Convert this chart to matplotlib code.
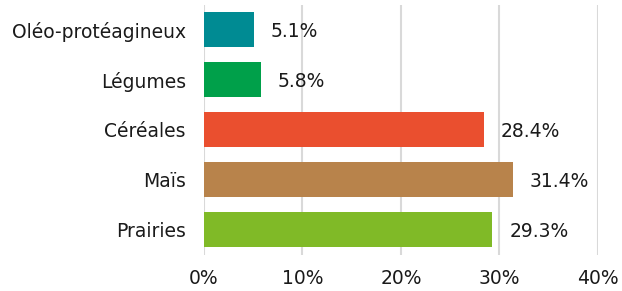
import matplotlib
matplotlib.use("Agg")
import matplotlib.pyplot as plt

categories = ["Prairies", "Maïs", "Céréales", "Légumes", "Oléo-protéagineux"]
values = [29.3, 31.4, 28.4, 5.8, 5.1]
labels = ["29.3%", "31.4%", "28.4%", "5.8%", "5.1%"]
colors = ["#80BA27", "#B8834B", "#EA4F2F", "#00A04A", "#008B93"]
xticks = [0, 10, 20, 30, 40]
xticklabels = ["0%", "10%", "20%", "30%", "40%"]

fig = plt.figure(figsize=(6.22, 2.91), dpi=100)
ax = fig.add_axes([0.328, 0.124, 0.633, 0.859])
ypos = list(range(len(categories)))
ax.barh(ypos, values, height=0.7, color=colors, zorder=3)
for y, v, l in zip(ypos, values, labels):
    ax.text(v + 1.7, y - 0.04, l, va="center", ha="left", fontsize=13.5, color="#1a1a1a")
ax.set_xlim(0, 40)
ax.set_ylim(-0.5, 4.5)
ax.set_yticks(ypos)
ax.set_yticklabels(categories, fontsize=13.5, color="#1a1a1a")
ax.set_xticks(xticks)
ax.set_xticklabels(xticklabels, fontsize=13.5, color="#1a1a1a")
ax.tick_params(axis="y", length=0, pad=13)
ax.tick_params(axis="x", length=0, pad=10)
ax.grid(axis="x", color="#D9D9D9", linewidth=1.5, zorder=0)
for s in ax.spines.values():
    s.set_visible(False)
fig.savefig("out.png", dpi=100)
